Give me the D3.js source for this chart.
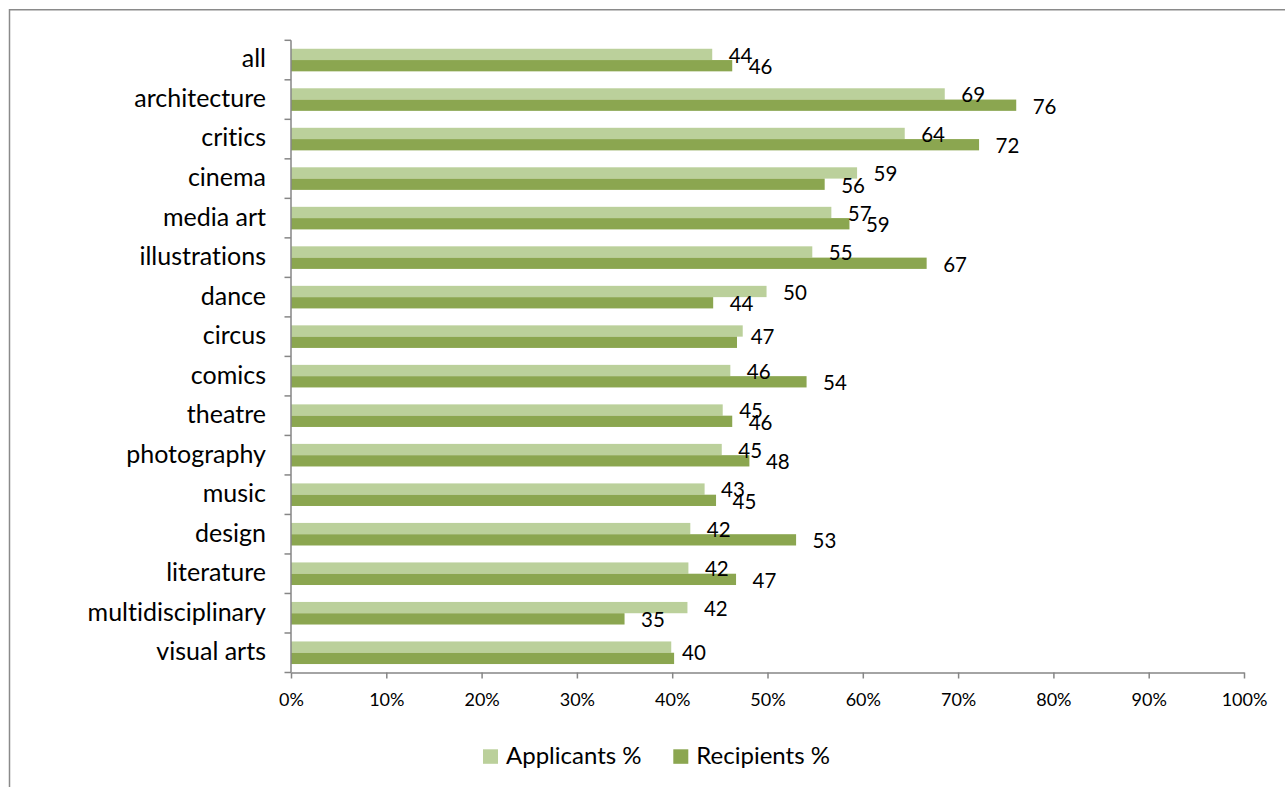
<!DOCTYPE html>
<html>
<head>
<meta charset="utf-8">
<script src="https://cdn.jsdelivr.net/npm/d3@7"></script>
<style>
  html, body { margin: 0; padding: 0; background: #fff; }
  svg { display: block; font-family: Lato, "Open Sans", sans-serif; font-variant-ligatures: none; font-feature-settings: "liga" 0, "clig" 0; }
  text { font-variant-ligatures: none; }
</style>
</head>
<body>
<svg id="chart" width="1285" height="787"></svg>
<script>
const categories = ["all","architecture","critics","cinema","media art","illustrations","dance","circus","comics","theatre","photography","music","design","literature","multidisciplinary","visual arts"];
const applicants = [44.2,68.6,64.4,59.4,56.7,54.7,49.9,47.4,46.1,45.3,45.2,43.4,41.9,41.7,41.6,39.9];
const recipients = [46.3,76.1,72.2,56.0,58.6,66.7,44.3,46.8,54.1,46.3,48.1,44.6,53.0,46.7,35.0,40.2];
const seriesNames = ["Applicants %","Recipients %"];
const seriesColors = ["#BBD09B","#8BA650"];
const xTicks = [0,10,20,30,40,50,60,70,80,90,100];

const svg = d3.select("#chart");
const axisColor = "#868686";

// chart border
svg.append("rect")
  .attr("x", 9.5).attr("y", 9.75)
  .attr("width", 1300).attr("height", 800)
  .attr("fill", "none").attr("stroke", "#8a8a8a").attr("stroke-width", 1.5);

const x = d3.scaleLinear().domain([0, 100]).range([291, 1244]);
const y = d3.scaleBand().domain(categories).range([40.3, 672.5]).padding(0);
const bw = y.bandwidth();
const gapRatio = 1.5;
const barH = bw / (2 + gapRatio);
const inner = d3.scaleBand().domain(seriesNames).range([(bw - 2 * barH) / 2, (bw + 2 * barH) / 2]).padding(0);

const rows = categories.map((c, i) => ({ c, vals: [applicants[i], recipients[i]] }));

// bars
const g = svg.append("g");
rows.forEach(r => {
  r.vals.forEach((v, k) => {
    g.append("rect")
      .attr("x", x(0))
      .attr("y", y(r.c) + inner(seriesNames[k]))
      .attr("width", x(v) - x(0))
      .attr("height", inner.bandwidth())
      .attr("fill", seriesColors[k]);
  });
});

// data labels
const lblSize = 20.5;
rows.forEach(r => {
  const a = Math.round(r.vals[0]), b = Math.round(r.vals[1]);
  if (a === b) {
    const cy = y(r.c) + bw / 2;
    g.append("text")
      .attr("x", x(Math.max(r.vals[0], r.vals[1])) + 8)
      .attr("y", cy + 0.358 * lblSize)
      .attr("font-size", lblSize).attr("fill", "#000")
      .text(a);
  } else {
    r.vals.forEach((v, k) => {
      const cy = y(r.c) + inner(seriesNames[k]) + inner.bandwidth() / 2 + 1;
      g.append("text")
        .attr("x", x(v) + 16.5)
        .attr("y", cy + 0.358 * lblSize)
        .attr("font-size", lblSize).attr("fill", "#000")
        .text(Math.round(v));
    });
  }
});

// x axis
const xAxis = svg.append("g")
  .attr("transform", `translate(0,${y.range()[1]})`)
  .call(d3.axisBottom(x).tickValues(xTicks).tickFormat(d => d + "%").tickSize(6).tickSizeOuter(0));
xAxis.select(".domain").attr("stroke", axisColor).attr("stroke-width", 1.5);
xAxis.selectAll(".tick line").attr("stroke", axisColor).attr("stroke-width", 1.5);
xAxis.selectAll(".tick text")
  .attr("y", 33).attr("dy", 0)
  .attr("font-size", 18).attr("fill", "#000")
  .attr("font-family", "Lato, sans-serif");

// y axis line + boundary ticks
svg.append("line")
  .attr("x1", x(0)).attr("x2", x(0))
  .attr("y1", y.range()[0]).attr("y2", y.range()[1])
  .attr("stroke", axisColor).attr("stroke-width", 1.5);
const bounds = categories.map(c => y(c)).concat([y.range()[1]]);
svg.selectAll(".ytick").data(bounds).enter().append("line")
  .attr("x1", x(0) - 6.5).attr("x2", x(0))
  .attr("y1", d => d).attr("y2", d => d)
  .attr("stroke", axisColor).attr("stroke-width", 1.5);

// category labels
svg.selectAll(".cat").data(categories).enter().append("text")
  .attr("x", 266)
  .attr("y", d => y(d) + bw / 2 + 7.4)
  .attr("text-anchor", "end")
  .attr("font-size", 25).attr("fill", "#000")
  .text(d => d);

// legend
const legendX = [483, 673.3];
seriesNames.forEach((n, k) => {
  svg.append("rect")
    .attr("x", legendX[k]).attr("y", 749.3)
    .attr("width", 15).attr("height", 14.5)
    .attr("fill", seriesColors[k]);
  svg.append("text")
    .attr("x", legendX[k] + 23).attr("y", 763.5)
    .attr("font-size", 24).attr("fill", "#000")
    .text(n);
});
</script>
</body>
</html>
